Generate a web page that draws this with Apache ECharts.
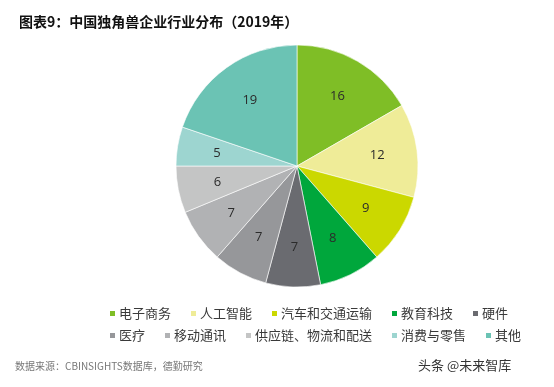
<!DOCTYPE html>
<html>
<head>
<meta charset="utf-8">
<script src="https://cdn.jsdelivr.net/npm/echarts@6/dist/echarts.min.js"></script>
<style>
  html, body { margin: 0; padding: 0; background: #fff; }
  #main { width: 554px; height: 387px; }
</style>
</head>
<body>
<div id="main"></div>
<script>
var categories = ['电子商务', '人工智能', '汽车和交通运输', '教育科技', '硬件',
                  '医疗', '移动通讯', '供应链、物流和配送', '消费与零售', '其他'];
var values = [16, 12, 9, 8, 7, 7, 7, 6, 5, 19];
var colors = ['#7fbe26', '#efec98', '#cbd800', '#00a73c', '#6a6b70',
              '#96979a', '#b1b2b4', '#c4c5c5', '#9dd5d0', '#6bc3b4'];

var CJK = '"Noto Sans CJK SC", "Noto Sans", sans-serif';

var pieData = [];
var labelData = [];
var legendRow1 = [];
var legendRow2 = [];
for (var i = 0; i < categories.length; i++) {
    pieData.push({ name: categories[i], value: values[i], itemStyle: { color: colors[i] } });
    labelData.push({ name: categories[i], value: values[i] });
    var item = { name: categories[i], itemStyle: { color: colors[i], opacity: 1 } };
    if (i < 5) { legendRow1.push(item); } else { legendRow2.push(item); }
}

var legendBase = {
    icon: 'rect',
    itemWidth: 7,
    itemHeight: 7,
    itemGap: 18,
    textStyle: { fontFamily: CJK, fontSize: 13, color: '#3a3a3a', padding: [0, 0, 0, -2] },
    selectedMode: false
};

var myChart = echarts.init(document.getElementById('main'));
myChart.setOption({
    animation: false,
    color: colors,
    title: {
        text: '图表9：中国独角兽企业行业分布（2019年）',
        left: 14,
        top: 10,
        textStyle: { fontFamily: CJK, fontSize: 14, fontWeight: 'bold', color: '#111' }
    },
    legend: [
        Object.assign({}, legendBase, { data: legendRow1, left: 103, top: 302 }),
        Object.assign({}, legendBase, { data: legendRow2, left: 103, top: 324 })
    ],
    graphic: [
        {
            type: 'text', left: 15, top: 361,
            style: { text: '数据来源：CBINSIGHTS数据库，德勤研究', font: '10px ' + CJK, fill: '#777' }
        },
        {
            type: 'text', left: 418, top: 359,
            style: { text: '头条 @未来智库', font: '13px ' + CJK, fill: '#333' }
        }
    ],
    series: [
        {
            type: 'pie',
            center: [297, 166],
            radius: 121,
            startAngle: 90,
            clockwise: true,
            silent: true,
            label: { show: false },
            labelLine: { show: false },
            itemStyle: { borderColor: '#fff', borderWidth: 0.6 },
            data: pieData
        },
        {
            type: 'pie',
            center: [297, 166],
            radius: [35, 121],
            startAngle: 90,
            clockwise: true,
            silent: true,
            legendHoverLink: false,
            itemStyle: { color: 'rgba(0,0,0,0)' },
            label: {
                show: true,
                position: 'inside',
                formatter: '{c}',
                fontFamily: '"Open Sans", "Noto Sans", sans-serif',
                fontSize: 13,
                color: '#2b2b2b'
            },
            labelLine: { show: false },
            data: labelData
        }
    ]
});
</script>
</body>
</html>
